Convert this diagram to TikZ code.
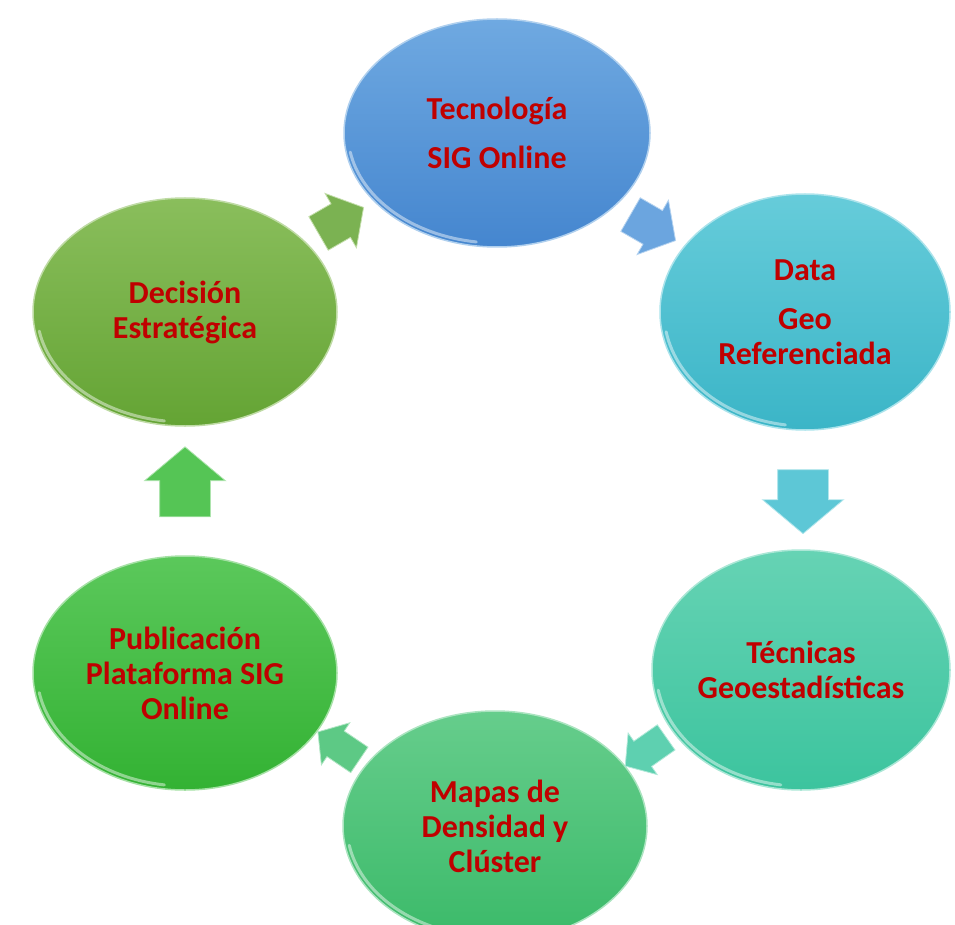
\documentclass[tikz,border=0pt]{standalone}
\usepackage{fontspec}
\setmainfont{Carlito}
\usetikzlibrary{shapes.geometric,shapes.arrows,calc}
\definecolor{txtred}{HTML}{C00000}
\definecolor{tecT}{HTML}{6FA9E1}\definecolor{tecB}{HTML}{4586CF}
\definecolor{datT}{HTML}{66CCDA}\definecolor{datB}{HTML}{3BB5C7}
\definecolor{geoT}{HTML}{66D3B4}\definecolor{geoB}{HTML}{3CC49E}
\definecolor{mapT}{HTML}{66CD8C}\definecolor{mapB}{HTML}{3BBA69}
\definecolor{pubT}{HTML}{5BC85B}\definecolor{pubB}{HTML}{33B233}
\definecolor{decT}{HTML}{8ABE5C}\definecolor{decB}{HTML}{64A434}
\tikzset{
  bubble/.style={ellipse, inner sep=0pt, align=center, text=txtred,
    font=\fontsize{32}{35}\selectfont\bfseries, line width=1.5pt},
  glint/.style={white, opacity=0.45, line width=3pt, line cap=round},
  blockarrow/.style={single arrow, inner xsep=0pt, single arrow tip angle=100,
    line width=0.8pt},
}
\newcommand\glintarc[3]{%
  \draw[glint] ([shift={(#1.center)}]190:#2pt and #3pt)
    arc[start angle=190,end angle=262,x radius=#2pt,y radius=#3pt];}
\begin{document}
\begin{tikzpicture}[x=1pt,y=-1pt]
\useasboundingbox (0,0) rectangle (955,925);
% ellipses
\node[bubble, top color=tecT, bottom color=tecB, draw=tecT!55!white,
  minimum width=306pt, minimum height=228pt] (tec) at (497,133)
  {Tecnología\\[14pt]SIG Online};
\node[bubble, top color=datT, bottom color=datB, draw=datT!55!white,
  minimum width=290pt, minimum height=236pt] (dat) at (805,312)
  {Data\\[14pt]Geo\\Referenciada};
\node[bubble, top color=geoT, bottom color=geoB, draw=geoT!55!white,
  minimum width=298pt, minimum height=240pt] (geo) at (801,670)
  {Técnicas\\Geoestadísticas};
\node[bubble, top color=mapT, bottom color=mapB, draw=mapT!55!white,
  minimum width=304pt, minimum height=230pt] (map) at (495,826)
  {Mapas de\\Densidad y\\Clúster};
\node[bubble, top color=pubT, bottom color=pubB, draw=pubT!55!white,
  minimum width=304pt, minimum height=234pt] (pub) at (185,673)
  {Publicación\\Plataforma SIG\\Online};
\node[bubble, top color=decT, bottom color=decB, draw=decT!55!white,
  minimum width=304pt, minimum height=228pt] (dec) at (185,312)
  {Decisión\\Estratégica};
\glintarc{tec}{149}{110}
\glintarc{dat}{141}{114}
\glintarc{geo}{145}{116}
\glintarc{map}{148}{111}
\glintarc{pub}{148}{113}
\glintarc{dec}{148}{110}
% block arrows between ellipses
\node[blockarrow, fill=decB!85!white, draw=decT!50!white, rotate=30,
  inner ysep=19pt, single arrow head extend=12pt,
  minimum height=52pt] (a1) at ($(dec)!0.5!(tec)+(-7,2)$) {};
\node[blockarrow, fill=tecT!90!tecB, draw=tecT!50!white, rotate=-30,
  inner ysep=19pt, single arrow head extend=12pt,
  minimum height=52pt] (a2) at ($(tec)!0.5!(dat)+(-5,1)$) {};
\node[blockarrow, fill=datT!80!datB, draw=datT!50!white, rotate=-90,
  inner ysep=25pt, single arrow head extend=15pt,
  minimum height=64pt] (a3) at ($(dat)!0.5!(geo)$) {};
\node[blockarrow, fill=geoT!80!geoB, draw=geoT!50!white, rotate=-145,
  inner ysep=15pt, single arrow head extend=10pt,
  minimum height=50pt] (a4) at ($(geo)!0.5!(map)+(3,0)$) {};
\node[blockarrow, fill=mapT!80!mapB, draw=mapT!50!white, rotate=146,
  inner ysep=15pt, single arrow head extend=10pt,
  minimum height=50pt] (a5) at ($(map)!0.5!(pub)+(4,0)$) {};
\node[blockarrow, fill=pubT!85!pubB, draw=pubT!50!white, rotate=90,
  inner ysep=25pt, single arrow head extend=15pt,
  minimum height=70pt] (a6) at ($(pub)!0.5!(dec)$) {};
\end{tikzpicture}
\end{document}
